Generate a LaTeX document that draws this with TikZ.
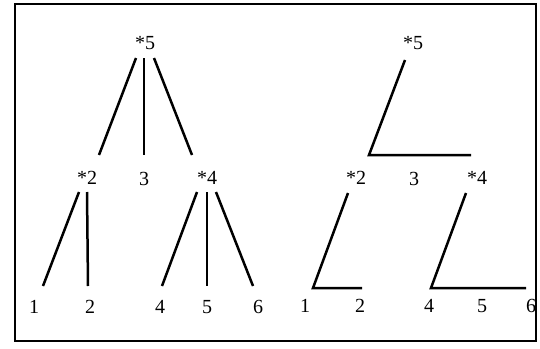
\documentclass[tikz,border=0pt]{standalone}
\usepackage{fontspec}
\setmainfont{Liberation Serif}
\usepackage{tikz}

\begin{document}
\begin{tikzpicture}[
  x=1pt, y=-1pt,
  num/.style={inner sep=0pt, font=\fontsize{20}{22}\selectfont},
  branch/.style={line width=2.5pt, line join=miter},
  frame/.style={draw, line width=1.8pt}
]
  \useasboundingbox (0,0) rectangle (540,348);
  \draw[frame] (15,4) rectangle (536,341);

  % left tree
  \node[num] (a5) at (145,43)  {*5};
  \node[num] (a2) at (87,178)  {*2};
  \node[num] (a3) at (144,179) {3};
  \node[num] (a4) at (207,178) {*4};
  \node[num] (al1) at (34,307)  {1};
  \node[num] (al2) at (90,307)  {2};
  \node[num] (al4) at (160,307) {4};
  \node[num] (al5) at (207,307) {5};
  \node[num] (al6) at (258,307) {6};

  \draw[branch] ([shift={(-9,15)}]a5.center) -- ([shift={(12,-23)}]a2.center);
  \draw[branch] ([shift={(-1,15)}]a5.center) -- ([shift={(0,-24)}]a3.center);
  \draw[branch] ([shift={(9,15)}]a5.center) -- ([shift={(-15,-23)}]a4.center);
  \draw[branch] ([shift={(-8,14)}]a2.center) -- ([shift={(9,-21)}]al1.center);
  \draw[branch] ([shift={(0,14)}]a2.center) -- ([shift={(-2,-21)}]al2.center);
  \draw[branch] ([shift={(-10,14)}]a4.center) -- ([shift={(2,-21)}]al4.center);
  \draw[branch] ([shift={(0,14)}]a4.center) -- ([shift={(0,-21)}]al5.center);
  \draw[branch] ([shift={(9,14)}]a4.center) -- ([shift={(-5,-21)}]al6.center);

  % right tree
  \node[num] (b5) at (413,43)  {*5};
  \node[num] (b2) at (356,178) {*2};
  \node[num] (b3) at (414,179) {3};
  \node[num] (b4) at (477,178) {*4};
  \node[num] (bl1) at (305,306) {1};
  \node[num] (bl2) at (360,306) {2};
  \node[num] (bl4) at (429,306) {4};
  \node[num] (bl5) at (482,306) {5};
  \node[num] (bl6) at (531,306) {6};

  \draw[branch] ([shift={(-8,17)}]b5.center) -- ([shift={(13,-23)}]b2.center)
    -- ([shift={(-6,-23)}]b4.center);
  \draw[branch] ([shift={(-8,15)}]b2.center) -- ([shift={(8,-18)}]bl1.center)
    -- ([shift={(2,-18)}]bl2.center);
  \draw[branch] ([shift={(-11,15)}]b4.center) -- ([shift={(2,-18)}]bl4.center)
    -- ([shift={(-5,-18)}]bl6.center);
\end{tikzpicture}
\end{document}
